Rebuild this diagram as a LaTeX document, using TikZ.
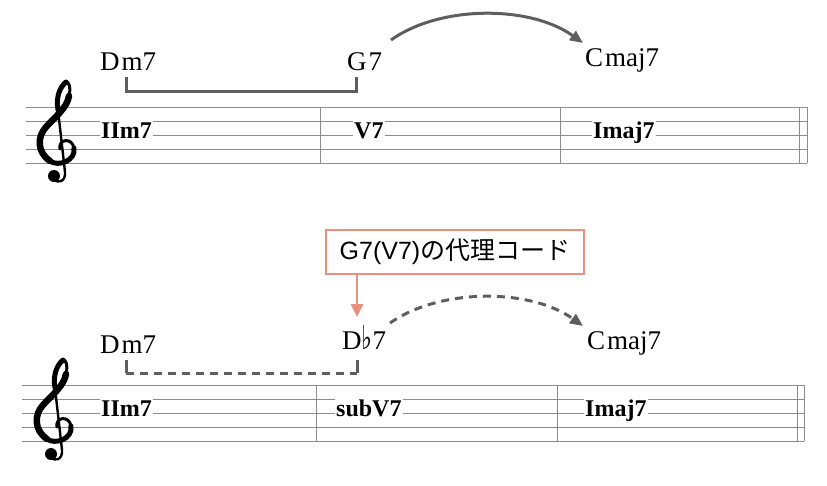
\documentclass[tikz,border=0pt]{standalone}
\usepackage{fontspec}
\usepackage{graphicx}
\setmainfont{Liberation Serif}
\newfontfamily\cjk{Noto Sans CJK JP}
\newfontfamily\latinsans{Liberation Sans}
\newfontfamily\flatfont{DejaVu Sans}
\usetikzlibrary{arrows.meta}
\definecolor{staffgray}{HTML}{8C8C8C}
\definecolor{linkgray}{HTML}{5E5E5E}
\definecolor{salmon}{HTML}{E8917F}
\tikzset{
  staffline/.style={staffgray, line width=1pt},
  chordname/.style={anchor=base west, inner sep=0pt, font=\fontsize{27}{27}\selectfont},
  numeral/.style={anchor=base west, inner xsep=1pt, inner ysep=0pt, fill=white, text height=18pt, text depth=0pt, font=\fontsize{24}{24}\selectfont\bfseries},
  bracketline/.style={linkgray, line width=3pt},
  arcline/.style={linkgray, line width=3pt, -{Triangle[length=13pt,width=11pt]}},
  callout/.style={draw=salmon, line width=2.2pt, minimum width=258pt, minimum height=44pt, font=\fontsize{25}{25}\selectfont},
  clefstroke/.style={black, line cap=round, line join=round},
  trebleclef/.pic={
    \draw[clefstroke, line width=3pt]
      (60,149) .. controls (58,139) and (72,137) .. (74,148);
    \draw[clefstroke, line width=5pt]
      (74,148) .. controls (76,161) and (58,167) .. (50,161);
    \draw[clefstroke, line width=6.5pt]
      (50,161) .. controls (37,152) and (37,137) .. (46,127)
      .. controls (55,117) and (67,108) .. (69,96);
    \draw[clefstroke, line width=3pt]
      (69,96) .. controls (71,88) and (69,81) .. (66,82);
    \draw[clefstroke, line width=5pt]
      (66,82) .. controls (59,88) and (56,98) .. (58,110);
    \draw[clefstroke, line width=2.4pt]
      (58,110) -- (65,172) .. controls (66,182) and (57,184) .. (54,179);
    \fill[black] (54,176) circle (6);
  }
}
\begin{document}
\begin{tikzpicture}[x=1pt,y=-1pt]
\useasboundingbox (0,0) rectangle (827,485);
% ---- top staff
\foreach \yy in {107,121,135,149,163} \draw[staffline] (26,\yy) -- (807,\yy);
\foreach \xx in {320,560,799,807} \draw[staffline] (\xx,107) -- (\xx,163);
\pic (clefA) at (0,0) {trebleclef};
\node[numeral] (n1) at (100,138) {IIm7};
\node[numeral] (n2) at (353,138) {V7};
\node[numeral] (n3) at (592,138) {Imaj7};
\node[chordname] (c1) at (100,70) {D\kern2pt m7};
\node[chordname] (c2) at (347,70) {G\kern2pt 7};
\node[chordname] (c3) at (585,66) {C\kern2pt maj7};
\coordinate (b1a) at (126,77);
\coordinate (b1b) at (356,77);
\draw[bracketline] (b1a) -- (b1a |- 0,91) -- (b1b |- 0,91) -- (b1b);
\coordinate (a1s) at (391,40);
\coordinate (a1e) at (583,43);
\draw[arcline] (a1s) .. controls (440,5) and (530,5) .. (a1e);
% ---- bottom staff
\foreach \yy in {385,399,413,427,441} \draw[staffline] (22,\yy) -- (804,\yy);
\foreach \xx in {316,557,797,804} \draw[staffline] (\xx,385) -- (\xx,441);
\pic (clefB) at (-3,278) {trebleclef};
\node[numeral] (m1) at (100,416) {IIm7};
\node[numeral] (m2) at (335,416) {subV7};
\node[numeral] (m3) at (584,416) {Imaj7};
\node[chordname] (d1) at (100,353) {D\kern2pt m7};
\node[chordname] (d2) at (342,349) {D{\flatfont\fontsize{33}{33}\selectfont\scalebox{0.7}[1]{♭}}7};
\node[chordname] (d3) at (587,349) {C\kern2pt maj7};
\coordinate (b2a) at (126,360);
\coordinate (b2b) at (357,360);
\draw[bracketline] (b2a) -- (b2a |- 0,373);
\draw[bracketline] (b2b) -- (b2b |- 0,373);
\draw[bracketline, dash pattern=on 8pt off 6pt] (b2a |- 0,373) -- (b2b |- 0,373);
\coordinate (a2s) at (390,323);
\coordinate (a2e) at (583,326);
\draw[arcline, dash pattern=on 8pt off 6pt] (a2s) .. controls (440,288) and (530,288) .. (a2e);
% ---- callout
\node[callout] (co) at (455,252) {{\latinsans G7(V7)}{\cjk の代理コード}};
\coordinate (coT) at (357,317);
\draw[salmon, line width=2.5pt, -{Triangle[length=13pt,width=12pt]}] (co.south -| coT) -- (coT);
\end{tikzpicture}
\end{document}
